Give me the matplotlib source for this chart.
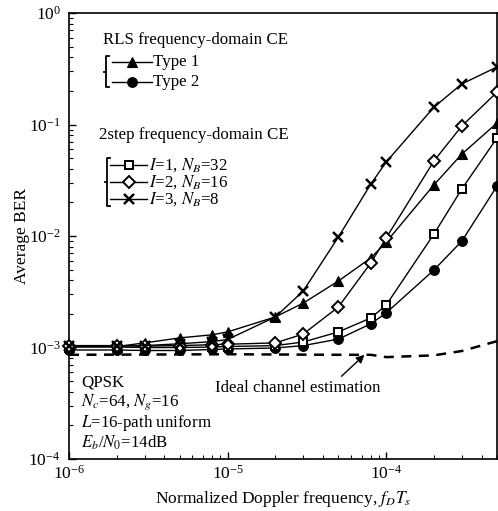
import matplotlib
matplotlib.use("Agg")
import matplotlib.pyplot as plt
from matplotlib.lines import Line2D

plt.rcParams['font.family'] = ['Liberation Serif', 'DejaVu Serif']
plt.rcParams['mathtext.fontset'] = 'stix'

# ---- data ----
fd = [1e-6, 2e-6, 3e-6, 5e-6, 8e-6, 1e-5, 2e-5, 3e-5, 5e-5, 8e-5, 1e-4, 2e-4, 3e-4, 5e-4]
rls_type1 = [0.00102, 0.00102, 0.00110, 0.00122, 0.00130, 0.00138, 0.00188, 0.0025, 0.00395,
             0.00635, 0.0088, 0.0287, 0.0543, 0.103]
rls_type2 = [0.00095, 0.00095, 0.00094, 0.00094, 0.00096, 0.00097, 0.00099, 0.00104, 0.00119,
             0.00163, 0.00204, 0.00495, 0.0090, 0.028]
step_i1 = [0.00101, 0.00101, 0.00100, 0.00100, 0.00101, 0.00102, 0.00104, 0.00112, 0.00138,
           0.00184, 0.0024, 0.0104, 0.0264, 0.0757]
step_i2 = [0.00104, 0.00104, 0.00103, 0.00104, 0.00106, 0.00107, 0.00110, 0.00132, 0.00231,
           0.00573, 0.0096, 0.047, 0.097, 0.195]
step_i3 = [0.00104, 0.00103, 0.00104, 0.00108, 0.00113, 0.00118, 0.00188, 0.00321, 0.0098,
           0.0292, 0.046, 0.143, 0.231, 0.328]
ideal_x = [1e-6, 1e-5, 5e-5, 8e-5, 1e-4, 2e-4, 3e-4, 5e-4]
ideal_y = [0.00086, 0.00087, 0.00086, 0.00086, 0.00082, 0.00085, 0.00093, 0.00114]

W, H = 498, 511
fig = plt.figure(figsize=(W / 100, H / 100), dpi=100)
L, R, T, B = 69, 497, 13, 459
ax = fig.add_axes([L / W, (H - B) / H, (R - L) / W, (B - T) / H])

ax.set_xscale('log')
ax.set_yscale('log')
ax.set_xlim(1e-6, 5e-4)
ax.set_ylim(1e-4, 1)

lw = 1.0
ms = 6.5
mew = 1.4
kw = dict(color='k', lw=lw, clip_on=False, zorder=3)
ax.plot(fd, rls_type1, '-', marker='^', ms=ms + 0.5, mfc='k', mec='k', mew=0.8, **kw)
ax.plot(fd, rls_type2, '-', marker='o', ms=ms + 0.5, mfc='k', mec='k', mew=0.8, **kw)
ax.plot(fd, step_i1, '-', marker='s', ms=ms - 0.3, mfc='white', mec='k', mew=mew, **kw)
ax.plot(fd, step_i2, '-', marker='D', ms=ms - 0.5, mfc='white', mec='k', mew=mew, **kw)
ax.plot(fd, step_i3, '-', marker='x', ms=ms + 0.5, mfc='k', mec='k', mew=mew + 0.4, **kw)
ax.plot(ideal_x, ideal_y, '--', color='k', lw=1.8, dashes=(4, 3))

ax.tick_params(which='both', direction='in', top=False, right=False, labelsize=12.5)
ax.tick_params(axis='x', which='both', pad=4)
ax.tick_params(axis='y', which='both', pad=6)
ax.tick_params(which='major', length=5, width=1)
ax.tick_params(which='minor', length=3, width=0.8)
for s in ax.spines.values():
    s.set_linewidth(1.2)

ax.set_xlabel('Normalized Doppler frequency, $f_DT_s$', fontsize=12.5, labelpad=5)
ax.set_ylabel('Average BER', fontsize=12.5, labelpad=-1)

# ---- legends (drawn manually) ----
fs = 12.2
def fx(px):
    return (px - L) / (R - L)
def fy(py):
    return (B - py) / (B - T)

ax.text(fx(103), fy(40), 'RLS frequency-domain CE', transform=ax.transAxes, fontsize=fs, va='center', ha='left')
leg1 = [('^', 'k', 'Type 1', 62), ('o', 'k', 'Type 2', 82)]
for m, fc, lab, py in leg1:
    ax.add_line(Line2D([fx(112), fx(152)], [fy(py), fy(py)], transform=ax.transAxes, color='k', lw=lw))
    ax.add_line(Line2D([fx(132)], [fy(py)], transform=ax.transAxes, marker=m, ms=ms + 0.5, mfc=fc, mec='k', mew=0.8, ls='none'))
    ax.text(fx(153), fy(py), lab, transform=ax.transAxes, fontsize=fs, va='center', ha='left')

ax.text(fx(99), fy(135), '2step frequency-domain CE', transform=ax.transAxes, fontsize=fs, va='center', ha='left')
leg2 = [('s', 'white', '$I$=1, $N_B$=32', 165, ms - 0.3, mew),
        ('D', 'white', '$I$=2, $N_B$=16', 182, ms - 0.5, mew),
        ('x', 'k', '$I$=3, $N_B$=8', 199, ms + 0.5, mew + 0.4)]
for m, fc, lab, py, s_, w_ in leg2:
    ax.add_line(Line2D([fx(110), fx(147)], [fy(py), fy(py)], transform=ax.transAxes, color='k', lw=lw))
    ax.add_line(Line2D([fx(129)], [fy(py)], transform=ax.transAxes, marker=m, ms=s_, mfc=fc, mec='k', mew=w_, ls='none'))
    ax.text(fx(149), fy(py), lab, transform=ax.transAxes, fontsize=fs, va='center', ha='left')

def bracket(xp, y0, y1):
    ax.add_line(Line2D([fx(xp + 3), fx(xp), fx(xp), fx(xp + 3)],
                       [fy(y0), fy(y0), fy(y1), fy(y1)], transform=ax.transAxes, color='k', lw=1.3))
    ym = (y0 + y1) / 2
    ax.add_line(Line2D([fx(xp), fx(xp - 2)], [fy(ym), fy(ym)], transform=ax.transAxes, color='k', lw=1.3))

bracket(106, 56, 87)
bracket(107, 158, 206)

# ---- annotation text ----
notes = ['QPSK', '$N_c$=64, $N_g$=16', '$L$=16-path uniform', '$E_b$/$N_0$=14dB']
for i, t in enumerate(notes):
    ax.text(fx(81), fy(382 + 20.3 * i), t, transform=ax.transAxes, fontsize=fs, va='center', ha='left')

ax.annotate('Ideal channel estimation', xy=(7.3e-5, 0.00086), xytext=(fx(215), fy(388)),
            textcoords='axes fraction', fontsize=fs, va='center', ha='left',
            arrowprops=dict(arrowstyle='-|>', color='k', lw=1.0, shrinkA=1, shrinkB=0,
                            relpos=(0.74, 1.0), mutation_scale=12))

fig.savefig('out.png', dpi=100)
